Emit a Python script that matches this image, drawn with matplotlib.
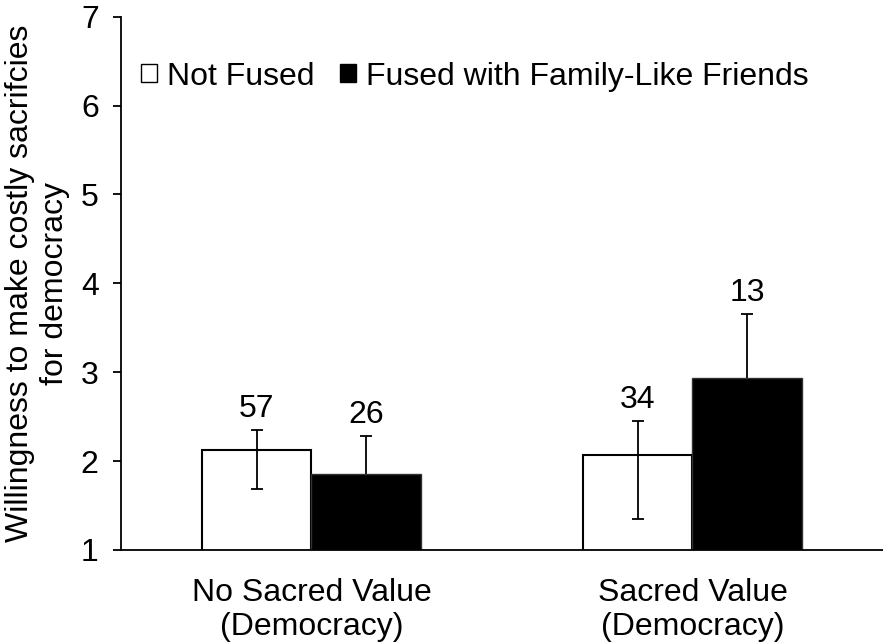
import matplotlib
matplotlib.use("Agg")
import matplotlib.pyplot as plt
from matplotlib.patches import Patch
import numpy as np

plt.rcParams['font.family'] = ['Liberation Sans', 'DejaVu Sans']

categories = ["No Sacred Value\n(Democracy)", "Sacred Value\n(Democracy)"]
series_names = ["Not Fused", "Fused with Family-Like Friends"]
not_fused = [2.12, 2.07]
fused = [1.86, 2.93]
not_fused_err_low = [0.43, 0.72]
not_fused_err_high = [0.23, 0.38]
fused_err_low = [0.42, 0.72]
fused_err_high = [0.42, 0.72]
n_not_fused = ["57", "34"]
n_fused = ["26", "13"]
yticks = [1, 2, 3, 4, 5, 6, 7]

fig = plt.figure(figsize=(8.83, 6.44), dpi=100)
ax = fig.add_axes([0.137, 0.146, 0.863, 0.828])

x = np.arange(len(categories))
w = 0.287
fs = 23

ax.bar(x - w/2, not_fused, w, color='white', edgecolor='black',
       linewidth=1.5, zorder=2)
ax.bar(x + w/2, fused, w, color='black', edgecolor='#333333',
       linewidth=1.0, zorder=2)
ax.errorbar(x - w/2, not_fused, yerr=[not_fused_err_low, not_fused_err_high],
            fmt='none', ecolor='black', elinewidth=1.3, capsize=4, capthick=1.3, zorder=3)
ax.errorbar(x + w/2, fused, yerr=[fused_err_low, fused_err_high],
            fmt='none', ecolor='black', elinewidth=1.3, capsize=4, capthick=1.3, zorder=1.5)

for xi, v, e, t in zip(x - w/2, not_fused, not_fused_err_high, n_not_fused):
    ax.annotate(t, (xi, v + e), xytext=(0, 9.5), textcoords='offset points',
                ha='center', va='baseline', fontsize=fs)
for xi, v, e, t in zip(x + w/2, fused, fused_err_high, n_fused):
    ax.annotate(t, (xi, v + e), xytext=(0, 9.5), textcoords='offset points',
                ha='center', va='baseline', fontsize=fs)

ax.set_ylim(1, 7)
ax.set_xlim(-0.5, 1.5)
ax.set_yticks(yticks)
ax.set_yticklabels([str(t) for t in yticks], fontsize=fs)
ax.set_xticks(x)
ax.set_xticklabels(categories, fontsize=fs)
ax.tick_params(axis='x', length=0, pad=20)
ax.tick_params(axis='y', length=6, width=1.3, pad=10)
ax.set_ylabel("Willingness to make costly sacrifcies\nfor democracy", fontsize=fs,
              labelpad=8, linespacing=1.2)
for s in ['top', 'right']:
    ax.spines[s].set_visible(False)
for s in ['left', 'bottom']:
    ax.spines[s].set_linewidth(1.3)

handles = [Patch(facecolor='white', edgecolor='black', linewidth=1.0),
           Patch(facecolor='black', edgecolor='black')]
ax.legend(handles, series_names, loc='upper left', bbox_to_anchor=(0.01, 0.94),
          ncol=2, frameon=False, fontsize=fs, handlelength=0.5, handleheight=0.5,
          handletextpad=0.3, columnspacing=0.8, borderaxespad=0)

fig.savefig("out.png", dpi=100)
